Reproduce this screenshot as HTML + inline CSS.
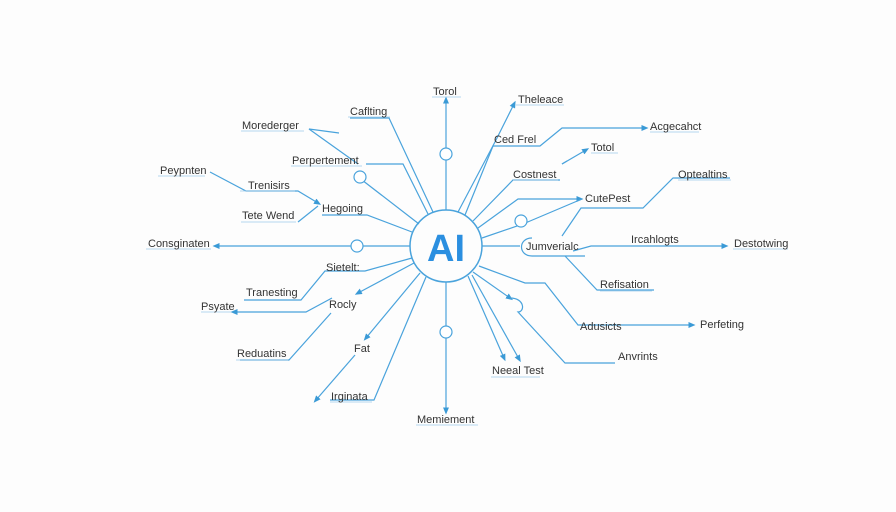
<!DOCTYPE html><html><head><style>body{margin:0;background:#fdfdfd}svg{display:block}text{font-family:"Liberation Sans",sans-serif;font-size:11px;fill:#333}</style></head><body>
<svg width="896" height="512" viewBox="0 0 896 512" xmlns="http://www.w3.org/2000/svg">
<defs><marker id="a" markerWidth="6" markerHeight="6" refX="3" refY="3" orient="auto"><path d="M0,0.5 L6,3 L0,5.5z" fill="#3a9ad6"/></marker></defs>
<g fill="none" stroke="#4aa3dc" stroke-width="1.2">
<circle cx="446" cy="246" r="36" stroke-width="1.5"/>
<line x1="446" y1="210" x2="446" y2="100" marker-end="url(#a)"/>
<circle cx="446" cy="154" r="6" fill="#fff"/>
<line x1="446" y1="282" x2="446" y2="411" marker-end="url(#a)"/>
<circle cx="446" cy="332" r="6" fill="#fff"/>
<polyline points="433,212 389,118 350,118"/>
<polyline points="428,214 403,164 366,164"/>
<polyline points="339,133 309,129 358,164"/>
<line x1="419" y1="224" x2="362" y2="180"/>
<circle cx="360" cy="177" r="6" fill="#fff"/>
<polyline points="412,232 367,215 322,215"/>
<polyline points="210,172 246,191 298,191 318,203" marker-end="url(#a)"/>
<polyline points="298,222 318,206"/>
<line x1="410" y1="246" x2="216" y2="246" marker-end="url(#a)"/>
<circle cx="357" cy="246" r="6" fill="#fff"/>
<polyline points="412,258 365,271 325,271 301,300 244,300"/>
<polyline points="414,263 358,293" marker-end="url(#a)"/>
<polyline points="332,298 306,312 234,312" marker-end="url(#a)"/>
<polyline points="331,313 289,360 240,360"/>
<line x1="420" y1="273" x2="366" y2="338" marker-end="url(#a)"/>
<polyline points="355,355 316,400" marker-end="url(#a)"/>
<polyline points="426,277 374,400 330,400"/>
<polyline points="458,212 496,140 514,104" marker-end="url(#a)"/>
<polyline points="465,215 493,146 540,146 562,128 645,128" marker-end="url(#a)"/>
<line x1="562" y1="164" x2="586" y2="150" marker-end="url(#a)"/>
<line x1="562" y1="164" x2="567" y2="161"/>
<polyline points="473,221 513,180 560,180"/>
<polyline points="478,228 518,199 580,199" marker-end="url(#a)"/>
<polyline points="482,238 523,224 582,199"/>
<circle cx="521" cy="221" r="6" fill="#fff"/>
<polyline points="482,246 520,246"/>
<path d="M532,238 C518,238 518,256 532,256 L585,256"/>
<polyline points="562,236 581,208 643,208 673,178 730,178"/>
<polyline points="573,251 591,246 725,246" marker-end="url(#a)"/>
<polyline points="565,256 597,290 654,290"/>
<polyline points="479,266 525,283 545,283 578,325 630,325 637,325 692,325" marker-end="url(#a)"/>
<polyline points="473,272 510,298" marker-end="url(#a)"/>
<path d="M510,298 C525,298 525,312 518,312 L565,363 L615,363"/>
<line x1="468" y1="276" x2="504" y2="358" marker-end="url(#a)"/>
<line x1="472" y1="275" x2="519" y2="359" marker-end="url(#a)"/>
</g>
<g stroke="#9cc9e8" stroke-width="0.8">
<line x1="432" y1="97" x2="461" y2="97"/><line x1="516" y1="105" x2="564" y2="105"/>
<line x1="348" y1="117" x2="390" y2="117"/><line x1="241" y1="131" x2="304" y2="131"/>
<line x1="650" y1="132" x2="699" y2="132"/><line x1="591" y1="153" x2="618" y2="153"/>
<line x1="291" y1="166" x2="362" y2="166"/><line x1="158" y1="176" x2="205" y2="176"/>
<line x1="513" y1="180" x2="558" y2="180"/><line x1="678" y1="180" x2="731" y2="180"/>
<line x1="240" y1="191" x2="295" y2="191"/><line x1="241" y1="222" x2="296" y2="222"/>
<line x1="146" y1="249" x2="211" y2="249"/><line x1="733" y1="249" x2="788" y2="249"/>
<line x1="600" y1="291" x2="652" y2="291"/><line x1="201" y1="312" x2="231" y2="312"/>
<line x1="236" y1="360" x2="288" y2="360"/><line x1="330" y1="402" x2="372" y2="402"/>
<line x1="491" y1="377" x2="540" y2="377"/><line x1="416" y1="425" x2="478" y2="425"/>
</g>
<text x="446" y="261" text-anchor="middle" style="font-size:38px;font-weight:bold;fill:#2b8fe0">AI</text>
<text x="433" y="95">Torol</text>
<text x="518" y="103">Theleace</text>
<text x="350" y="115">Caflting</text>
<text x="242" y="129">Morederger</text>
<text x="494" y="143">Ced Frel</text>
<text x="650" y="130">Acgecahct</text>
<text x="591" y="151">Totol</text>
<text x="292" y="164">Perpertement</text>
<text x="160" y="174">Peypnten</text>
<text x="513" y="178">Costnest</text>
<text x="678" y="178">Optealtins</text>
<text x="248" y="189">Trenisirs</text>
<text x="585" y="202">CutePest</text>
<text x="322" y="212">Hegoing</text>
<text x="242" y="219">Tete Wend</text>
<text x="631" y="243">Ircahlogts</text>
<text x="148" y="247">Consginaten</text>
<text x="526" y="250">Jumverialc</text>
<text x="734" y="247">Destotwing</text>
<text x="326" y="271">Sietelt:</text>
<text x="246" y="296">Tranesting</text>
<text x="600" y="288">Refisation</text>
<text x="329" y="308">Rocly</text>
<text x="201" y="310">Psyate</text>
<text x="580" y="330">Adusicts</text>
<text x="700" y="328">Perfeting</text>
<text x="354" y="352">Fat</text>
<text x="237" y="357">Reduatins</text>
<text x="618" y="360">Anvrints</text>
<text x="492" y="374">Neeal Test</text>
<text x="331" y="400">Irginata</text>
<text x="417" y="423">Memiement</text>
</svg></body></html>
